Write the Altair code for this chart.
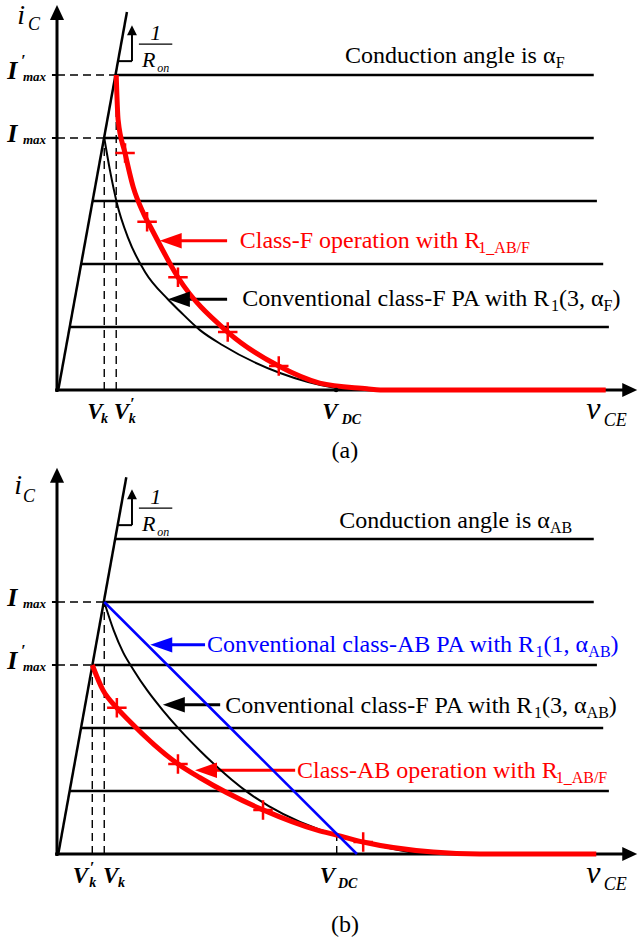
import altair as alt
import pandas as pd

# ----------------------------------------------------------------------
# Diagram values: v_CE and i_C in diagram units, origin at the axes corner
# ----------------------------------------------------------------------
LEVELS = [1, 2, 3, 4, 5]                       # output-characteristic current levels

# (a) class-F, conduction angle alpha_F
A_LEVEL_START = [0.20, 0.38, 0.56, 0.75, 0.94]
A_LEVEL_END = [8.76, 8.67, 8.57, 8.52, 8.52]
A_KNEE_V = [0.02, 1.11]
A_KNEE_I = [0.00, 6.00]
A_VK, A_VK_P = 0.75, 0.94                      # V_k, V'_k
A_IMAX, A_IMAX_P = 4.0, 5.0                    # I_max, I'_max
A_VDC = 4.43
A_BLACK_V = [0.75, 0.84, 0.95, 1.13, 1.40, 1.76, 1.95, 2.27, 2.63, 3.54, 4.43, 4.62]
A_BLACK_I = [4.00, 3.49, 2.97, 2.41, 1.87, 1.44, 1.25, 0.95, 0.71, 0.27, 0.03, 0.00]
A_RED_V = [0.94, 0.97, 1.08, 1.21, 1.37, 1.51, 1.92, 2.71, 3.52, 4.17, 4.92, 5.13, 8.71]
A_RED_I = [5.00, 4.29, 3.76, 3.22, 2.81, 2.54, 1.79, 0.92, 0.38, 0.11, 0.02, 0.00, 0.00]
A_MARK_V = [1.08, 1.43, 1.92, 2.71, 3.52]
A_MARK_I = [3.76, 2.67, 1.79, 0.92, 0.38]

# (b) class-AB, conduction angle alpha_AB
B_LEVEL_START = [0.20, 0.38, 0.56, 0.75, 0.93]
B_LEVEL_END = [8.76, 8.67, 8.57, 8.52, 8.52]
B_KNEE_V = [0.02, 1.10]
B_KNEE_I = [0.00, 5.98]
B_VK, B_VK_P = 0.75, 0.56
B_IMAX, B_IMAX_P = 4.0, 3.0
B_VDC, B_IDC = 4.44, 0.30
B_BLUE_V = [0.75, 4.76]
B_BLUE_I = [4.00, 0.00]
B_BLACK_V = [0.75, 0.90, 1.05, 1.21, 1.43, 1.68, 1.95, 2.27, 3.04, 4.13, 4.44, 5.44, 5.80]
B_BLACK_I = [4.00, 3.55, 3.20, 2.93, 2.60, 2.28, 1.97, 1.64, 0.97, 0.40, 0.30, 0.06, 0.00]
B_RED_V = [0.56, 0.73, 0.95, 1.16, 1.92, 2.27, 3.27, 4.13, 4.44, 4.86, 5.97, 6.71, 8.56]
B_RED_I = [3.00, 2.60, 2.32, 2.10, 1.43, 1.21, 0.70, 0.38, 0.30, 0.19, 0.03, 0.00, 0.00]
B_MARK_V = [0.95, 1.92, 3.27, 4.86]
B_MARK_I = [2.32, 1.43, 0.70, 0.19]

# annotation arrows: (tip v, tail v, i, colour)
A_ARROWS = [(1.63, 2.70, 2.37, "#ff0000"), (1.76, 2.70, 1.44, "#000000")]
B_ARROWS = [(1.48, 2.35, 3.32, "#0000ff"), (1.68, 2.59, 2.37, "#000000"),
            (2.19, 3.78, 1.33, "#ff0000")]

# annotation texts as (text, normal/subscript) runs
A_COND = [("Conduction angle is α", "n"), ("F", "s")]
A_RED_LBL = [("Class-F operation with R", "n"), ("1_AB/F", "s")]
A_BLK_LBL = [("Conventional class-F PA with R", "n"), ("1", "s"), ("(3, α", "n"),
             ("F", "s"), (")", "n")]
B_COND = [("Conduction angle is α", "n"), ("AB", "s")]
B_BLUE_LBL = [("Conventional class-AB PA with R", "n"), ("1", "s"), ("(1, α", "n"),
              ("AB", "s"), (")", "n")]
B_BLK_LBL = [("Conventional class-F PA with R", "n"), ("1", "s"), ("(3, α", "n"),
             ("AB", "s"), (")", "n")]
B_RED_LBL = [("Class-AB operation with R", "n"), ("1_AB/F", "s")]

# ----------------------------------------------------------------------
# Layout: both panels share one coordinate frame, panel (a) is lifted up
# ----------------------------------------------------------------------
PX = 63.0                    # pixels per diagram unit
W, H = 639, 944
ORIGIN_X = 57
BASE_A, BASE_B = 390, 854
OFF_A = (BASE_B - BASE_A) / PX
XDOM = [-ORIGIN_X / PX, (W - ORIGIN_X) / PX]
YDOM = [-(H - BASE_B) / PX, BASE_B / PX]
X_TIP = 9.21
Y_TIP = {"a": 6.11, "b": 6.13}
FONT = "Liberation Serif"
RED, BLUE, BLACK = "#ff0000", "#0000ff", "#000000"

TIMES_W = {" ": 250, "(": 333, ")": 333, ",": 250, "-": 333, "/": 278, "_": 500,
           "α": 530, "A": 722, "B": 667, "C": 667, "F": 556, "P": 556, "R": 667,
           "a": 444, "c": 444, "d": 500, "e": 444, "g": 500, "h": 500, "i": 278,
           "l": 278, "n": 500, "o": 500, "p": 500, "r": 333, "s": 389, "t": 278,
           "u": 500, "v": 500, "w": 722}


def text_w(s, size):
    return sum(TIMES_W.get(c, 500) for c in s) * size / 1000.0


def yy(panel, i):
    return i + OFF_A if panel == "a" else i


rules, dashes, curves, marks, heads, texts = [], [], [], [], [], []


def rule(p, v1, i1, v2, i2, color=BLACK, width=2.5):
    rules.append(dict(x=v1, y=yy(p, i1), x2=v2, y2=yy(p, i2), c=color, w=width))


def dash(p, v1, i1, v2, i2):
    dashes.append(dict(x=v1, y=yy(p, i1), x2=v2, y2=yy(p, i2)))


def head(p, v, i, kind, color=BLACK):
    heads.append(dict(x=v, y=yy(p, i), k=kind, c=color))


def txt(p, v, i, t, size, style, color=BLACK):
    texts.append(dict(x=v, y=yy(p, i), t=t, fs=size, st=style, col=color))


def runs(p, v0, i0, parts, color, main=24, sub=16, drop=5):
    x = v0
    prev = "n"
    for t, kind in parts:
        fs = main if kind == "n" else sub
        if kind == "s" and t.startswith("1"):
            x -= 2.0 / PX          # tuck the subscript digit under the R
        txt(p, x, i0 if kind == "n" else i0 - drop / PX, t, fs, "n", color)
        x += text_w(t, fs) / PX
        prev = kind


panels = {
    "a": dict(start=A_LEVEL_START, end=A_LEVEL_END, kv=A_KNEE_V, ki=A_KNEE_I,
              black=(A_BLACK_V, A_BLACK_I), red=(A_RED_V, A_RED_I),
              mark=(A_MARK_V, A_MARK_I), arrows=A_ARROWS),
    "b": dict(start=B_LEVEL_START, end=B_LEVEL_END, kv=B_KNEE_V, ki=B_KNEE_I,
              black=(B_BLACK_V, B_BLACK_I), red=(B_RED_V, B_RED_I),
              mark=(B_MARK_V, B_MARK_I), arrows=B_ARROWS),
}

for p, d in panels.items():
    # axes with arrow heads
    rule(p, -0.03, 0, X_TIP - 0.2, 0, width=3)
    rule(p, 0, -0.03, 0, Y_TIP[p] - 0.2, width=3)
    head(p, X_TIP, 0, "right")
    head(p, 0, Y_TIP[p], "up")
    # knee (on-resistance) line and the constant-current levels
    rule(p, d["kv"][0], d["ki"][0], d["kv"][1], d["ki"][1])
    for lv, s, e in zip(LEVELS, d["start"], d["end"]):
        rule(p, s, lv, e, lv)
    # 1/R_on slope sketch
    rule(p, 0.97, 5.22, 1.19, 5.22, width=2)
    rule(p, 1.19, 5.22, 1.19, 5.65, width=2)
    head(p, 1.19, 5.79, "small")
    rule(p, 1.30, 5.49, 1.83, 5.49, width=1.3)
    txt(p, 1.48, 5.55, "1", 22, "it")
    txt(p, 1.35, 5.13, "R", 22, "it")
    txt(p, 1.59, 5.05, "on", 12, "it")
    # load-line curves
    for name, (vs, cs) in (("black", d["black"]), ("red", d["red"])):
        for v, c in zip(vs, cs):
            curves.append(dict(x=v, y=yy(p, c), s=f"{p}-{name}", kind=name))
    for v, c in zip(*d["mark"]):
        marks.append(dict(x=v, y=yy(p, c)))
    # annotation arrows
    for tip, tail, i, col in d["arrows"]:
        rule(p, tip + 0.15, i, tail, i, color=col, width=3)
        head(p, tip, i, "left", col)
    # axis labels
    txt(p, 8.40, -0.46, "v", 32, "it")
    txt(p, 8.68, -0.57, "CE", 18, "it")

# panel (a) specifics
for lv in (A_IMAX, A_IMAX_P):
    rule("a", -0.08, lv, 0, lv, width=2)
dash("a", 0, A_IMAX_P, A_VK_P, A_IMAX_P)
dash("a", 0, A_IMAX, A_VK, A_IMAX)
dash("a", A_VK, 0, A_VK, A_IMAX)
dash("a", A_VK_P, 0, A_VK_P, A_IMAX_P)
marks_dot = [dict(x=A_VDC, y=yy("a", 0))]
txt("a", -0.63, 5.81, "i", 28, "it")
txt("a", -0.46, 5.71, "C", 18, "it")
txt("a", -0.79, A_IMAX_P - 0.06, "I", 26, "bi")
txt("a", -0.57, A_IMAX_P + 0.14, "′", 16, "bi")
txt("a", -0.54, A_IMAX_P - 0.09, "max", 13, "bi")
txt("a", -0.79, A_IMAX - 0.06, "I", 26, "bi")
txt("a", -0.54, A_IMAX - 0.09, "max", 13, "bi")
txt("a", 0.48, -0.46, "V", 23, "bi")
txt("a", 0.70, -0.52, "k", 14, "bi")
txt("a", 0.90, -0.46, "V", 23, "bi")
txt("a", 1.16, -0.30, "′", 16, "bi")
txt("a", 1.14, -0.52, "k", 14, "bi")
txt("a", 4.21, -0.46, "V", 23, "bi")
txt("a", 4.52, -0.54, "DC", 14, "bi")
runs("a", 4.57, 5.19, A_COND, BLACK)
runs("a", 2.90, 2.25, A_RED_LBL, RED)
runs("a", 2.94, 1.33, A_BLK_LBL, BLACK)
txt("a", 4.57 - text_w("(a)", 24) / 2 / PX, -1.08, "(a)", 24, "n")

# panel (b) specifics
for lv in (B_IMAX, B_IMAX_P):
    rule("b", -0.08, lv, 0, lv, width=2)
dash("b", 0, B_IMAX, B_VK, B_IMAX)
dash("b", 0, B_IMAX_P, B_VK_P, B_IMAX_P)
dash("b", B_VK_P, 0, B_VK_P, B_IMAX_P)
dash("b", B_VK, 0, B_VK, B_IMAX)
dash("b", B_VDC, 0, B_VDC, B_IDC)
blue_rows = [dict(x=B_BLUE_V[0], y=yy("b", B_BLUE_I[0]),
                  x2=B_BLUE_V[1], y2=yy("b", B_BLUE_I[1]))]
txt("b", -0.68, 5.71, "i", 28, "it")
txt("b", -0.54, 5.59, "C", 18, "it")
txt("b", -0.79, B_IMAX - 0.06, "I", 26, "bi")
txt("b", -0.54, B_IMAX - 0.09, "max", 13, "bi")
txt("b", -0.79, B_IMAX_P - 0.06, "I", 26, "bi")
txt("b", -0.57, B_IMAX_P + 0.14, "′", 16, "bi")
txt("b", -0.54, B_IMAX_P - 0.09, "max", 13, "bi")
txt("b", 0.25, -0.46, "V", 23, "bi")
txt("b", 0.52, -0.30, "′", 16, "bi")
txt("b", 0.51, -0.52, "k", 14, "bi")
txt("b", 0.73, -0.46, "V", 23, "bi")
txt("b", 0.97, -0.52, "k", 14, "bi")
txt("b", 4.17, -0.46, "V", 23, "bi")
txt("b", 4.46, -0.54, "DC", 14, "bi")
runs("b", 4.48, 5.17, B_COND, BLACK)
runs("b", 2.38, 3.21, B_BLUE_LBL, BLUE)
runs("b", 2.67, 2.24, B_BLK_LBL, BLACK)
runs("b", 3.81, 1.21, B_RED_LBL, RED)
txt("b", 4.57 - text_w("(b)", 24) / 2 / PX, -1.24, "(b)", 24, "n")

# ----------------------------------------------------------------------
# Chart
# ----------------------------------------------------------------------
XS = alt.Scale(domain=XDOM, nice=False, zero=False)
YS = alt.Scale(domain=YDOM, nice=False, zero=False)
X = alt.X("x:Q", scale=XS, axis=None)
Y = alt.Y("y:Q", scale=YS, axis=None)

rules_df = pd.DataFrame(rules)
dash_df = pd.DataFrame(dashes)
curve_df = pd.DataFrame(curves)
mark_df = pd.DataFrame(marks)
head_df = pd.DataFrame(heads)
text_df = pd.DataFrame(texts)

solid = alt.Chart(rules_df).mark_rule(strokeCap="butt").encode(
    x=X, y=Y, x2="x2:Q", y2="y2:Q",
    color=alt.Color("c:N", scale=None),
    strokeWidth=alt.StrokeWidth("w:Q", scale=None),
)
dashed = alt.Chart(dash_df).mark_rule(
    color=BLACK, strokeWidth=1.4, strokeDash=[8, 5]
).encode(x=X, y=Y, x2="x2:Q", y2="y2:Q")

black_curves = alt.Chart(curve_df).transform_filter(
    alt.datum.kind == "black"
).mark_line(color=BLACK, strokeWidth=2, interpolate="monotone").encode(
    x=X, y=Y, detail="s:N", order="x:Q")
red_curves = alt.Chart(curve_df).transform_filter(
    alt.datum.kind == "red"
).mark_line(color=RED, strokeWidth=5, interpolate="monotone").encode(
    x=X, y=Y, detail="s:N", order="x:Q")

cross_marks = alt.Chart(mark_df).mark_point(
    shape="M-1,0L1,0M0,-1L0,1", size=380, filled=False, color=RED,
    strokeWidth=2.5, opacity=1
).encode(x=X, y=Y)

blue_line = alt.Chart(pd.DataFrame(blue_rows)).mark_rule(
    color=BLUE, strokeWidth=2.5
).encode(x=X, y=Y, x2="x2:Q", y2="y2:Q")

dot = alt.Chart(pd.DataFrame(marks_dot)).mark_point(
    shape="circle", size=20, filled=True, color=BLACK, opacity=1
).encode(x=X, y=Y)

HEAD_SHAPES = {
    "left": ("M0,0L2,-0.7L2,0.7Z", 484),
    "right": ("M0,0L-1,-0.47L-1,0.47Z", 900),
    "up": ("M0,0L-0.47,1L0.47,1Z", 900),
    "small": ("M0,0L-0.5,1L0.5,1Z", 400),
}
head_layers = []
for kind, (path, size) in HEAD_SHAPES.items():
    head_layers.append(
        alt.Chart(head_df).transform_filter(alt.datum.k == kind).mark_point(
            shape=path, size=size, filled=True, opacity=1, strokeWidth=0
        ).encode(x=X, y=Y, color=alt.Color("c:N", scale=None))
    )

text_layers = []
for style, kw in (("n", {}), ("it", {"fontStyle": "italic"}),
                  ("bi", {"fontStyle": "italic", "fontWeight": "bold"})):
    text_layers.append(
        alt.Chart(text_df).transform_filter(alt.datum.st == style).mark_text(
            font=FONT, align="left", baseline="alphabetic", **kw
        ).encode(
            x=X, y=Y, text="t:N",
            size=alt.Size("fs:Q", scale=None),
            color=alt.Color("col:N", scale=None),
        )
    )

chart = alt.layer(
    solid, dashed, black_curves, red_curves, cross_marks, blue_line, dot,
    *head_layers, *text_layers
).properties(
    width=W, height=H, padding=0,
    autosize=alt.AutoSizeParams(type="none"),
    background="white",
).configure_view(stroke=None)

chart.save("out.html", embed_options={"renderer": "svg", "actions": False})
